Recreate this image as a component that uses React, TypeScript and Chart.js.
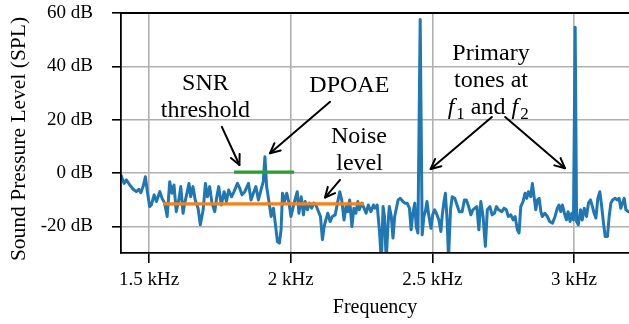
import React, { useEffect, useRef } from "react";
import { Chart, registerables } from "chart.js";

Chart.register(...registerables);

// ---- data (frequency in kHz, level in dB SPL) ----
const spectrumFreq = [
  1.401, 1.405, 1.412, 1.42, 1.432, 1.444, 1.455, 1.464, 1.471, 1.479, 1.487, 1.494,
  1.502, 1.508, 1.518, 1.526, 1.538, 1.546, 1.555, 1.564, 1.573, 1.581, 1.588, 1.596,
  1.605, 1.612, 1.62, 1.626, 1.635, 1.641, 1.647, 1.655, 1.663, 1.673, 1.681, 1.691,
  1.699, 1.706, 1.714, 1.722, 1.732, 1.739, 1.746, 1.755, 1.765, 1.773, 1.781, 1.791,
  1.8, 1.812, 1.82, 1.828, 1.838, 1.851, 1.86, 1.868, 1.877, 1.886, 1.895, 1.903,
  1.909, 1.915, 1.924, 1.931, 1.939, 1.947, 1.953, 1.96, 1.966, 1.971, 1.978, 1.986,
  1.994, 2.001, 2.009, 2.015, 2.023, 2.029, 2.037, 2.045, 2.051, 2.059, 2.066, 2.074,
  2.082, 2.089, 2.098, 2.105, 2.112, 2.118, 2.124, 2.131, 2.139, 2.147, 2.157, 2.165,
  2.173, 2.18, 2.188, 2.195, 2.201, 2.208, 2.216, 2.223, 2.23, 2.237, 2.242, 2.251,
  2.259, 2.266, 2.274, 2.283, 2.292, 2.297, 2.305, 2.313, 2.32, 2.326, 2.331, 2.337,
  2.343, 2.348, 2.355, 2.361, 2.367, 2.373, 2.379, 2.387, 2.396, 2.403, 2.411, 2.419,
  2.425, 2.431, 2.438, 2.443, 2.449, 2.457, 2.464, 2.47, 2.475, 2.481, 2.487, 2.495,
  2.501, 2.508, 2.514, 2.523, 2.53, 2.535, 2.541, 2.546, 2.552, 2.557, 2.564, 2.57,
  2.579, 2.587, 2.595, 2.605, 2.613, 2.62, 2.628, 2.636, 2.643, 2.65, 2.657, 2.664,
  2.671, 2.679, 2.687, 2.694, 2.703, 2.711, 2.719, 2.726, 2.734, 2.745, 2.753, 2.761,
  2.768, 2.777, 2.785, 2.792, 2.8, 2.806, 2.812, 2.82, 2.827, 2.833, 2.839, 2.847,
  2.853, 2.859, 2.865, 2.871, 2.877, 2.883, 2.888, 2.897, 2.906, 2.914, 2.924, 2.933,
  2.941, 2.947, 2.953, 2.959, 2.966, 2.973, 2.979, 2.986, 2.992, 2.998, 3.004, 3.009,
  3.015, 3.023, 3.029, 3.036, 3.044, 3.051, 3.058, 3.065, 3.071, 3.077, 3.084, 3.091,
  3.097, 3.104, 3.11, 3.118, 3.124, 3.13, 3.136, 3.145, 3.153, 3.159, 3.165, 3.171,
  3.177, 3.183, 3.192, 3.201,
];
const spectrumDb = [
  -0.7, -2.0, -3.9, -2.6, -4.5, -6.1, -7.0, -6.1, -7.4, -5.1, -1.4, -7.0,
  -12.6, -12.0, -8.2, -10.7, -7.0, -9.5, -11.3, -16.3, -3.3, -7.6, -4.5, -14.5,
  -10.1, -5.1, -15.1, -11.3, -7.0, -3.9, -8.9, -5.1, -10.1, -13.2, -19.4, -13.8,
  -3.9, -8.9, -5.1, -11.3, -14.5, -8.9, -5.1, -12.0, -7.0, -10.7, -6.4, -8.9,
  -7.0, -3.9, -5.7, -8.2, -7.0, -3.9, -10.1, -7.6, -5.1, -10.1, -6.4, -3.3,
  6.1, -5.1, -11.3, -16.3, -13.2, -20.1, -25.7, -26.3, -21.3, -7.6, -10.7, -7.6,
  -11.3, -16.3, -12.6, -10.1, -7.0, -15.1, -8.9, -15.7, -10.7, -13.8, -11.3, -13.2,
  -11.3, -12.0, -14.5, -16.3, -25.0, -20.1, -17.6, -15.1, -18.2, -16.3, -15.7, -11.3,
  -7.0, -10.1, -17.6, -12.6, -14.5, -10.1, -20.1, -13.2, -15.1, -10.7, -13.8, -11.3,
  -13.2, -15.1, -12.0, -14.5, -12.0, -13.2, -12.0, -21.3, -33.0, -12.6, -16.3, -33.0,
  -20.1, -12.6, -16.3, -24.4, -16.3, -13.2, -10.1, -9.5, -10.7, -11.3, -11.3, -13.2,
  -21.3, -15.1, -11.3, -20.1, -22.5, 57.6, -23.2, -16.3, -14.5, -10.7, -15.7, -20.7,
  -15.7, -13.8, -15.1, -17.6, -21.9, -15.7, -10.7, -7.6, -17.6, -32.0, -13.8, -8.9,
  -9.5, -12.0, -14.5, -14.5, -10.1, -10.1, -12.6, -15.7, -13.8, -13.2, -12.6, -21.3,
  -10.7, -16.3, -27.5, -13.8, -12.6, -15.7, -15.1, -12.6, -13.8, -14.5, -13.2, -13.8,
  -16.3, -15.7, -17.6, -16.3, -21.3, -22.5, -12.6, -10.7, -7.6, -9.5, -7.0, -8.9,
  -3.9, -8.9, -13.8, -10.1, -9.5, -14.5, -16.3, -15.1, -16.3, -18.2, -18.8, -16.3,
  -13.2, -12.0, -14.5, -12.0, -15.1, -17.6, -14.5, -18.2, -15.1, -17.6, 54.7, -18.2,
  -19.4, -13.8, -17.6, -13.2, -16.3, -11.3, -10.1, -12.6, -15.1, -16.9, -9.5, -7.0,
  -12.0, -18.8, -23.8, -23.8, -16.3, -11.3, -10.1, -9.5, -10.1, -9.5, -13.2, -11.3,
  -9.5, -13.8, -14.5, -14.6,
];
const noiseFreq = [1.549, 2.259];
const noiseDb = [-11.6, -11.6];
const snrFreq = [1.8, 2.012];
const snrDb = [0.3, 0.3];

const xTickValues = [1.5, 2, 2.5, 3];
const xTickLabels = ["1.5 kHz", "2 kHz", "2.5 kHz", "3 kHz"];
const yTickValues = [-20, 0, 20, 40, 60];
const yTickLabels = ["-20 dB", "0 dB", "20 dB", "40 dB", "60 dB"];
const xRange = [1.401, 3.194];
const yRange = [-30, 60];
const yTitle = "Sound Pressure Level (SPL)";
const xTitle = "Frequency";

const FONT = '"Liberation Serif", "Times New Roman", serif';

// annotation texts: [text, x(kHz), y(dB)] (centre x, baseline y)
const annotationTexts: [string, number, number][] = [
  ["SNR", 1.699, 31.3],
  ["threshold", 1.699, 21.0],
  ["DPOAE", 2.207, 30.4],
  ["Noise", 2.241, 11.1],
  ["level", 2.243, 1.1],
  ["Primary", 2.707, 42.2],
  ["tones at", 2.707, 32.1],
];
// arrows: from (x, y) to (x, y)
const annotationArrows: [number, number, number, number][] = [
  [1.757, 17.3, 1.819, 3.0],
  [2.139, 26.7, 1.927, 7.4],
  [2.174, -2.6, 2.121, -9.2],
  [2.71, 21.0, 2.494, 1.5],
  [2.757, 21.0, 2.968, 1.8],
];

const annotationPlugin = {
  id: "annotations",
  afterDatasetsDraw(chart: any) {
    const { ctx, chartArea, scales } = chart;
    const xs = scales.x;
    const ys = scales.y;
    ctx.save();
    // top spine
    ctx.strokeStyle = "#000";
    ctx.lineWidth = 1.8;
    ctx.beginPath();
    ctx.moveTo(chartArea.left - 0.9, chartArea.top);
    ctx.lineTo(chartArea.right, chartArea.top);
    ctx.stroke();

    // y-axis title
    ctx.save();
    ctx.fillStyle = "#000";
    ctx.font = `21.5px ${FONT}`;
    ctx.textAlign = "center";
    ctx.textBaseline = "middle";
    ctx.translate(19, 139);
    ctx.rotate(-Math.PI / 2);
    ctx.fillText(yTitle, 0, 0);
    ctx.restore();

    ctx.fillStyle = "#000";
    ctx.font = `24px ${FONT}`;
    ctx.textAlign = "center";
    ctx.textBaseline = "alphabetic";
    for (const [t, fx, fy] of annotationTexts) {
      ctx.fillText(t, xs.getPixelForValue(fx), ys.getPixelForValue(fy));
    }
    // "f1 and f2" with italic f and subscripts
    const parts: [string, string, number][] = [
      ["f", `italic 24px ${FONT}`, 0],
      ["1", `17px ${FONT}`, 5],
      [" and ", `24px ${FONT}`, 0],
      ["f", `italic 24px ${FONT}`, 0],
      ["2", `17px ${FONT}`, 5],
    ];
    let total = 0;
    const widths: number[] = [];
    for (const [t, f] of parts) {
      ctx.font = f;
      const w = ctx.measureText(t).width + (t === "f" ? 2 : 0);
      widths.push(w);
      total += w;
    }
    let px = xs.getPixelForValue(2.697) - total / 2;
    const base = ys.getPixelForValue(22.1);
    ctx.textAlign = "left";
    parts.forEach(([t, f, dy], i) => {
      ctx.font = f;
      ctx.fillText(t, px, base + dy);
      px += widths[i];
    });

    // arrows
    ctx.lineWidth = 2;
    ctx.lineCap = "round";
    ctx.lineJoin = "round";
    for (const [x0, y0, x1, y1] of annotationArrows) {
      const ax = xs.getPixelForValue(x0);
      const ay = ys.getPixelForValue(y0);
      const bx = xs.getPixelForValue(x1);
      const by = ys.getPixelForValue(y1);
      ctx.beginPath();
      ctx.moveTo(ax, ay);
      ctx.lineTo(bx, by);
      ctx.stroke();
      const ang = Math.atan2(by - ay, bx - ax);
      const hl = 11;
      const ha = 0.45;
      ctx.beginPath();
      ctx.moveTo(bx - hl * Math.cos(ang - ha), by - hl * Math.sin(ang - ha));
      ctx.lineTo(bx, by);
      ctx.lineTo(bx - hl * Math.cos(ang + ha), by - hl * Math.sin(ang + ha));
      ctx.stroke();
    }
    ctx.restore();
  },
};

export default function App() {
  const ref = useRef<HTMLCanvasElement>(null);
  useEffect(() => {
    if (!ref.current) return;
    const toPts = (xs: number[], ys: number[]) => xs.map((x, i) => ({ x, y: ys[i] }));
    const chart = new Chart(ref.current, {
      type: "line",
      data: {
        datasets: [
          {
            data: toPts(snrFreq, snrDb),
            borderColor: "#2ca02c",
            borderWidth: 3.3,
            pointRadius: 0,
            borderCapStyle: "butt",
          },
          {
            data: toPts(noiseFreq, noiseDb),
            borderColor: "#ff7f0e",
            borderWidth: 3.3,
            pointRadius: 0,
            borderCapStyle: "butt",
          },
          {
            data: toPts(spectrumFreq, spectrumDb),
            borderColor: "#1f77b4",
            borderWidth: 3,
            pointRadius: 0,
            borderJoinStyle: "round",
            tension: 0,
            clip: 0,
          },
        ],
      },
      options: {
        animation: false,
        responsive: false,
        devicePixelRatio: 1,
        layout: { padding: { top: 13, right: 0, left: 0, bottom: 0 } },
        plugins: { legend: { display: false }, tooltip: { enabled: false } },
        scales: {
          x: {
            type: "linear",
            min: xRange[0],
            max: xRange[1],
            afterBuildTicks: (s: any) => {
              s.ticks = xTickValues.map((v) => ({ value: v }));
            },
            afterFit: (s: any) => {
              s.height = 71;
              s.paddingLeft = 0;
              s.paddingRight = 0;
            },
            ticks: {
              callback: (v: any) => xTickLabels[xTickValues.indexOf(Number(v))] ?? "",
              font: { family: FONT, size: 19 },
              color: "#000",
              padding: 6,
              maxRotation: 0,
              autoSkip: false,
            },
            grid: {
              color: "#b0b0b0",
              lineWidth: 1.6,
              tickColor: "#000",
              tickLength: 10,
              tickWidth: 1.6,
            },
            border: { display: true, color: "#000", width: 1.8, z: 1 },
            title: {
              display: true,
              text: xTitle,
              font: { family: FONT, size: 20 },
              color: "#000",
              padding: { top: 0, bottom: 4 },
            },
          },
          y: {
            type: "linear",
            min: yRange[0],
            max: yRange[1],
            afterBuildTicks: (s: any) => {
              s.ticks = yTickValues.map((v) => ({ value: v }));
            },
            afterFit: (s: any) => {
              s.width = 121;
              s.paddingTop = 0;
              s.paddingBottom = 0;
            },
            ticks: {
              callback: (v: any) => yTickLabels[yTickValues.indexOf(Number(v))] ?? "",
              font: { family: FONT, size: 19 },
              color: "#000",
              padding: 19,
            },
            grid: {
              color: "#b0b0b0",
              lineWidth: 1.6,
              tickColor: "#000",
              tickLength: 9,
              tickWidth: 1.6,
            },
            border: { display: true, color: "#000", width: 1.8, z: 1 },
            title: { display: false },
          },
        },
      },
      plugins: [annotationPlugin],
    } as any);
    return () => chart.destroy();
  }, []);
  return (
    <div style={{ position: "fixed", left: 0, top: 0, width: 629, height: 324, background: "#fff" }}>
      <canvas ref={ref} width={629} height={324} style={{ width: 629, height: 324, display: "block" }} />
    </div>
  );
}
